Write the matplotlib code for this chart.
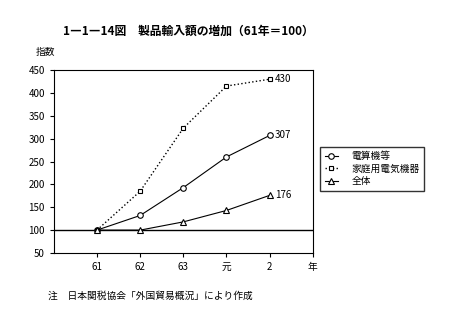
import numpy as np
import matplotlib
matplotlib.use('Agg')
from matplotlib import pyplot as plt

plt.rcParams['font.family'] = ['Noto Sans CJK JP', 'DejaVu Sans']

years = ['61', '62', '63', '元', '2']
computers = [100, 132, 193, 260, 307]
appliances = [100, 185, 323, 415, 430]
total = [100, 100, 118, 143, 176]
yticks = [50, 100, 150, 200, 250, 300, 350, 400, 450]

fig = plt.figure(figsize=(4.56, 3.32), dpi=100)
ax = fig.add_axes([0.118, 0.238, 0.568, 0.551])

x = np.arange(1, len(years) + 1)
ax.axhline(100, color='black', lw=1.0, zorder=1)
ax.plot(x, computers, '-', color='black', lw=0.8, marker='o', ms=4,
        mfc='white', mec='black', mew=0.8, label='電算機等')
ax.plot(x, appliances, ':', color='black', lw=1.0, marker='s', ms=3.5,
        mfc='white', mec='black', mew=0.8, label='家庭用電気機器')
ax.plot(x, total, '-', color='black', lw=0.8, marker='^', ms=4,
        mfc='white', mec='black', mew=0.8, label='全体')

for series in (appliances, computers, total):
    ax.text(x[-1] + 0.12, series[-1], str(series[-1]), fontsize=7,
            va='center', ha='left')

ax.set_xlim(0, 6)
ax.set_ylim(50, 450)
ax.set_xticks(list(x) + [6])
ax.set_xticklabels(years + ['年'], fontsize=7)
ax.set_yticks(yticks)
ax.set_yticklabels([str(v) for v in yticks], fontsize=7)
ax.tick_params(direction='out', length=3, width=0.8)
for s in ax.spines.values():
    s.set_linewidth(0.8)

ax.legend(loc='center left', bbox_to_anchor=(1.01, 0.46), fontsize=7,
          frameon=True, fancybox=False, edgecolor='black', handlelength=1.3,
          borderpad=0.5, labelspacing=0.25, handletextpad=1.4)

fig.text(0.138, 0.905, '1―1―14図　製品輸入額の増加（61年＝100）', fontsize=8.5,
         va='center', ha='left', fontweight='bold')
fig.text(0.079, 0.843, '指数', fontsize=7, va='center', ha='left')
fig.text(0.105, 0.11, '注　日本関税協会「外国貿易概況」により作成', fontsize=7,
         va='center', ha='left')

fig.savefig('out.png', dpi=100)
